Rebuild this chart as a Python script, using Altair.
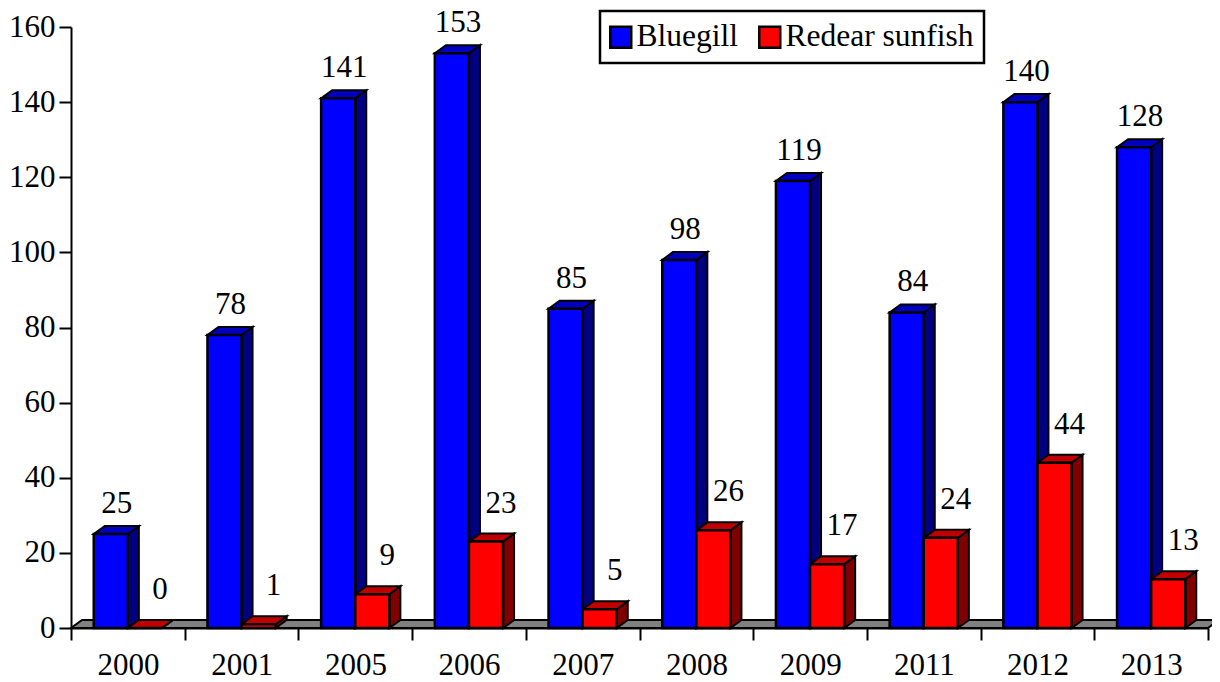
import altair as alt
import pandas as pd

years = ["2000", "2001", "2005", "2006", "2007", "2008", "2009", "2011", "2012", "2013"]
bluegill = [25, 78, 141, 153, 85, 98, 119, 84, 140, 128]
redear = [0, 1, 9, 23, 5, 26, 17, 24, 44, 13]

FONT = "Liberation Serif"
SIZE = 31
DX = 11 / 113.7   # depth of the 3-D effect, in category units
DY = 8 / 3.756    # depth of the 3-D effect, in value units

series = [
    ("Bluegill", bluegill, 0.2, "#0000ff", "#0000c0", "#000080", 6, -30),
    ("Redear sunfish", redear, 0.5, "#ff0000", "#c00000", "#800000", 15, -38),
]

front_rows = []
for name, vals, off, *_ in series:
    for i, v in enumerate(vals):
        front_rows.append({"year": years[i], "series": name, "x0": i + off, "x1": i + off + 0.3, "v": v, "zero": 0})
front = pd.DataFrame(front_rows)

x_scale = alt.Scale(domain=[0, 10], nice=False, zero=False)
y_scale = alt.Scale(domain=[0, 160], nice=False, zero=False)

x_axis = alt.Axis(
    values=list(range(11)), title=None, grid=False, orient="bottom",
    labelExpr="['" + "','".join(years) + "',''][datum.value]",
    labelOffset=57, labelAlign="center", labelFlush=False, labelOverlap=False, labelBound=False,
    labelPadding=10, labelFont=FONT, labelFontSize=SIZE, labelColor="black",
    domainColor="black", domainWidth=2, tickColor="black", tickWidth=2, tickSize=12, zindex=1,
)
y_axis = alt.Axis(
    values=list(range(0, 161, 20)), title=None, grid=False, labelPadding=4,
    labelFont=FONT, labelFontSize=SIZE, labelColor="black", labelFlush=False, labelOverlap=False,
    domainColor="black", domainWidth=2, tickColor="black", tickWidth=2, tickSize=12, zindex=1,
)

# Grey floor
floor = pd.DataFrame({"y": [0, DY], "xa": [0, DX], "xb": [10, 10 + DX]})
floor_layer = alt.Chart(floor).mark_area(orient="horizontal", fill="#808080", stroke="black", strokeWidth=2, clip=False).encode(
    x=alt.X("xa:Q", scale=x_scale, axis=x_axis, stack=None),
    x2="xb:Q",
    y=alt.Y("y:Q", scale=y_scale, axis=y_axis, stack=None),
)

layers = [floor_layer]
for name, vals, off, col, top_col, side_col, ldx, ldy in series:
    side_rows, top_rows = [], []
    for i, v in enumerate(vals):
        right = i + off + 0.3
        left = i + off
        side_rows += [
            {"year": years[i], "x": right, "y": v, "y0": 0},
            {"year": years[i], "x": right + DX, "y": v + DY, "y0": DY},
        ]
        top_rows += [
            {"year": years[i], "y": v, "xa": left, "xb": right},
            {"year": years[i], "y": v + DY, "xa": left + DX, "xb": right + DX},
        ]
    layers.append(
        alt.Chart(pd.DataFrame(side_rows)).mark_area(fill=side_col, stroke="black", strokeWidth=2, clip=False).encode(
            x=alt.X("x:Q", scale=x_scale, title=None, stack=None),
            y=alt.Y("y:Q", scale=y_scale, title=None, stack=None),
            y2="y0:Q",
            detail="year:N",
        )
    )
    layers.append(
        alt.Chart(pd.DataFrame(top_rows)).mark_area(orient="horizontal", fill=top_col, stroke="black", strokeWidth=2, clip=False).encode(
            x=alt.X("xa:Q", scale=x_scale, title=None, stack=None),
            x2="xb:Q",
            y=alt.Y("y:Q", scale=y_scale, title=None, stack=None),
            detail="year:N",
        )
    )

fronts = alt.Chart(front).mark_rect(stroke="black", strokeWidth=2.5, clip=False).encode(
    x=alt.X("x0:Q", scale=x_scale, title=None),
    x2="x1:Q",
    y=alt.Y("v:Q", scale=y_scale, title=None),
    y2="zero:Q",
    color=alt.Color(
        "series:N",
        scale=alt.Scale(domain=[s[0] for s in series], range=[s[3] for s in series]),
        legend=alt.Legend(
            orient="none", legendX=529, legendY=-16, title=None, direction="horizontal", columns=2,
            symbolType="square", symbolSize=441, symbolStrokeColor="black", symbolStrokeWidth=2.5,
            symbolOffset=-5,
            labelFont=FONT, labelFontSize=31.5, labelColor="black", labelLimit=400, labelOffset=0,
            strokeColor="black", fillColor="white",
            padding=10, columnPadding=16,
        ),
    ),
)
layers.append(fronts)

for name, vals, off, col, top_col, side_col, ldx, ldy in series:
    df = pd.DataFrame({"x": [i + off + 0.15 for i in range(len(vals))], "v": vals})
    layers.append(
        alt.Chart(df).mark_text(font=FONT, fontSize=SIZE, color="black", dx=ldx, dy=ldy, baseline="middle", align="center", clip=False).encode(
            x=alt.X("x:Q", scale=x_scale, title=None),
            y=alt.Y("v:Q", scale=y_scale, title=None),
            text="v:Q",
        )
    )

chart = alt.layer(*layers).properties(
    width=1137, height=601,
    autosize=alt.AutoSizeParams(type="none"),
    padding={"left": 63, "top": 19, "right": 4, "bottom": 54},
).configure_view(stroke=None).configure_legend(strokeWidth=2.5)

chart.save("out.html", embed_options={"renderer": "svg", "actions": False})
